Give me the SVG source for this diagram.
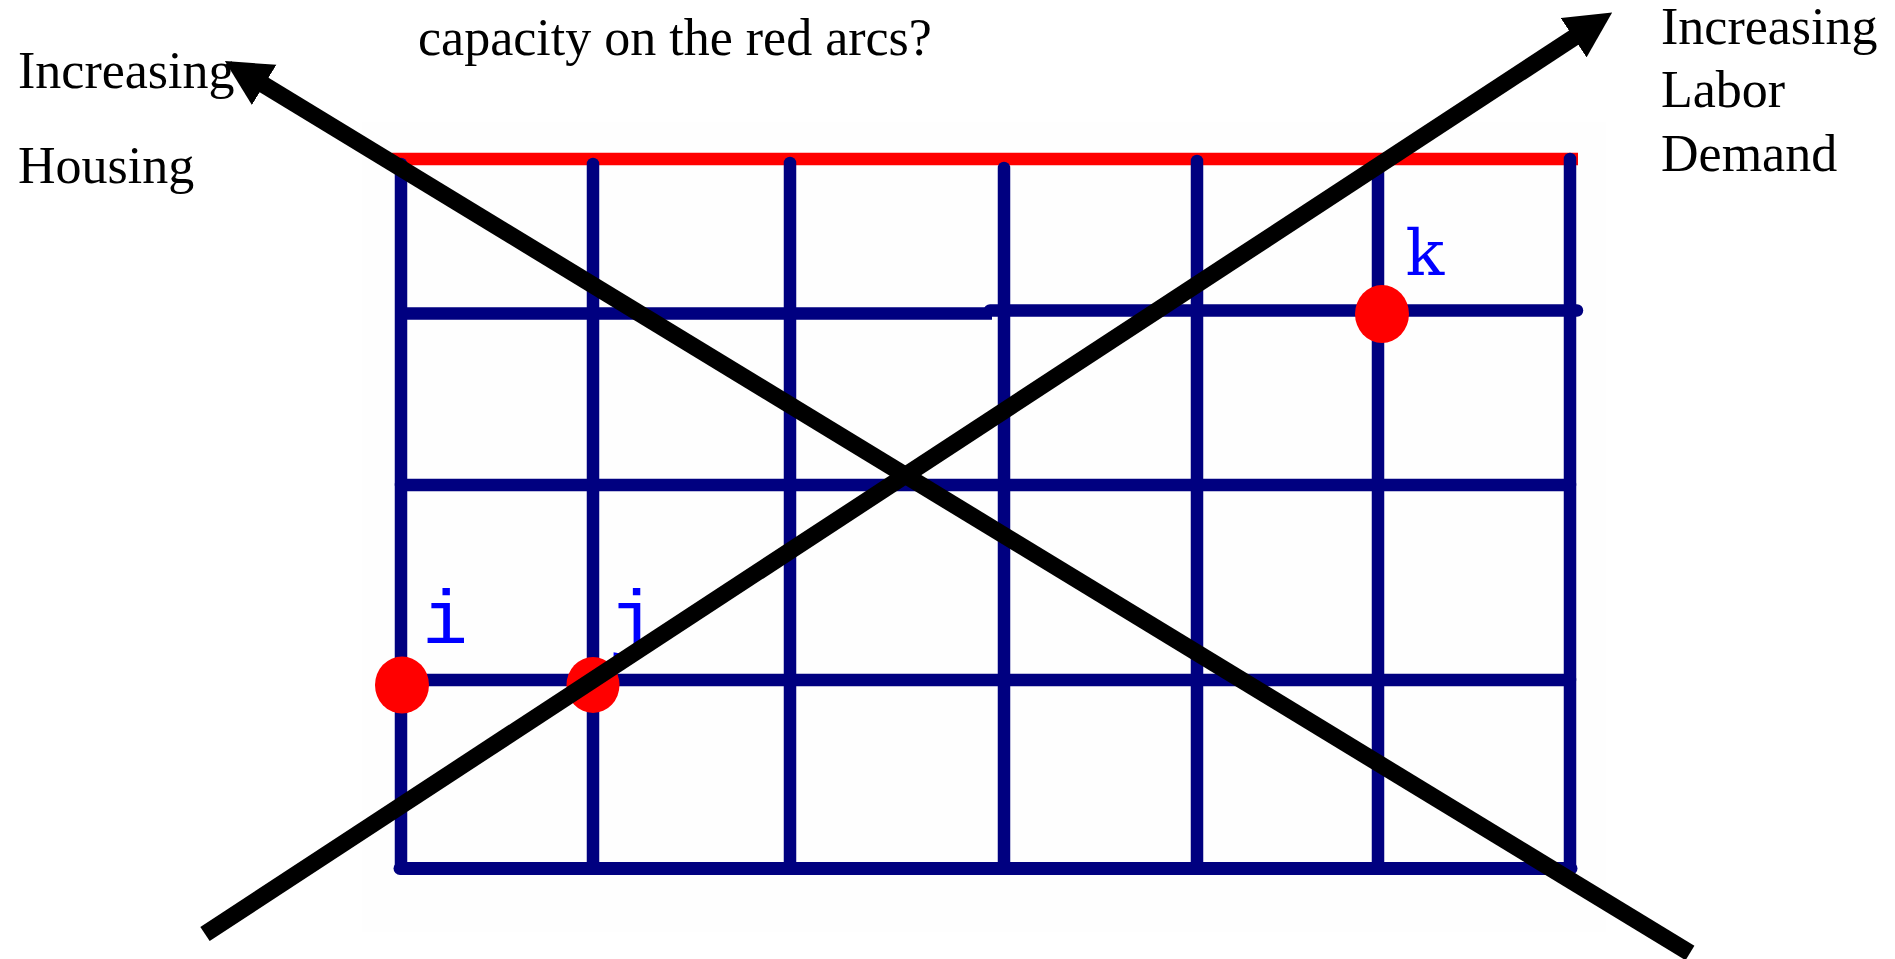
<svg xmlns="http://www.w3.org/2000/svg" width="1895" height="959" viewBox="0 0 1895 959">
  <style>
    .t { font-family: "Liberation Serif", "Times New Roman", serif; font-size: 52px; fill: #000; }
    .lbl { font-family: "Liberation Mono", "Courier New", monospace; font-size: 76px; fill: #0000ff; text-anchor: middle; }
    .lbl2 { font-family: "DejaVu Serif", "Liberation Serif", serif; font-size: 64px; fill: #0000ff; text-anchor: middle; }
    .g { stroke: #000080; stroke-width: 12.5; fill: none; stroke-linecap: round; }
    .gb { stroke: #000080; stroke-width: 12.5; fill: none; stroke-linecap: butt; }
    .red { stroke: #ff0000; stroke-width: 12.5; fill: none; }
    .dot { fill: #ff0000; }
    .arr { stroke: #000; stroke-width: 17; fill: none; stroke-linecap: butt; marker-end: url(#ah); }
  </style>
  <defs>
    <marker id="ah" markerUnits="userSpaceOnUse" viewBox="0 -24 47 48" markerWidth="47" markerHeight="48" refX="1" refY="0" orient="auto">
      <path d="M0,-23.5 L46,0 L0,23.5 Z" fill="#000"/>
    </marker>
  </defs>
  <rect width="1895" height="959" fill="#ffffff"/>
  <rect x="362" y="122" width="1244" height="810" fill="#fefefe"/>

  <g id="texts">
    <text class="t" x="418" y="55">capacity on the red arcs?</text>
    <text class="t" x="18" y="88">Increasing</text>
    <text class="t" x="18" y="183">Housing</text>
    <text class="t" x="1661" y="44">Increasing</text>
    <text class="t" x="1661" y="107">Labor</text>
    <text class="t" x="1661" y="171">Demand</text>
  </g>

  <g id="grid">
    <line class="red" x1="392" y1="159" x2="1578" y2="159"/>
    <line class="g" x1="401" y1="164" x2="401" y2="868"/>
    <line class="g" x1="593" y1="164" x2="593" y2="868"/>
    <line class="g" x1="790" y1="163" x2="790" y2="868"/>
    <line class="g" x1="1004" y1="168" x2="1004" y2="868"/>
    <line class="g" x1="1197" y1="161" x2="1197" y2="868"/>
    <line class="g" x1="1378" y1="166" x2="1378" y2="868"/>
    <line class="g" x1="1570" y1="159" x2="1570" y2="868"/>
    <line class="gb" x1="401" y1="313.5" x2="992" y2="313.5"/>
    <line class="g" x1="990" y1="310.5" x2="1577" y2="310.5"/>
    <line class="g" x1="401" y1="485" x2="1570" y2="485"/>
    <line class="g" x1="401" y1="680" x2="1570" y2="680"/>
    <line class="g" x1="400" y1="868.5" x2="1571" y2="868.5" style="stroke-width:13"/>
  </g>

  <g id="node-i">
    <ellipse class="dot" cx="402" cy="685" rx="27" ry="28.5"/>
    <text class="lbl" x="445" y="643">i</text>
  </g>
  <g id="node-j">
    <ellipse class="dot" cx="593" cy="685" rx="26.5" ry="28"/>
    <text class="lbl" x="632" y="643">j</text>
  </g>
  <g id="node-k">
    <ellipse class="dot" cx="1382" cy="314" rx="27" ry="29"/>
    <text class="lbl2" x="1425" y="275">k</text>
  </g>

  <g id="connectors">
    <line class="arr" x1="1690" y1="953" x2="263.3" y2="84.4"/>
    <line class="arr" x1="205" y1="934" x2="1574.5" y2="37.2"/>
  </g>
</svg>
